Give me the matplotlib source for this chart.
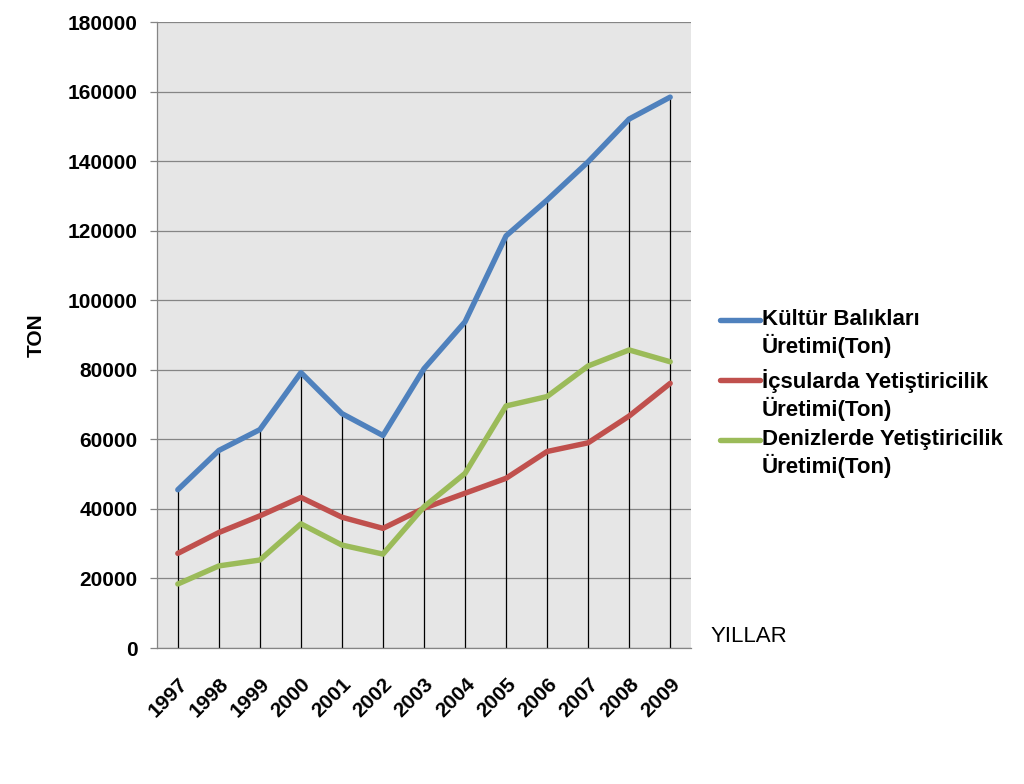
import matplotlib
matplotlib.use("Agg")
import matplotlib.pyplot as plt
from matplotlib.lines import Line2D
import numpy as np

plt.rcParams['font.family'] = ['Liberation Sans', 'DejaVu Sans']

years = ['1997', '1998', '1999', '2000', '2001', '2002', '2003',
         '2004', '2005', '2006', '2007', '2008', '2009']
kultur = [45500, 56800, 62800, 79200, 67400, 61100, 80300,
          93800, 118500, 128800, 139800, 152100, 158400]
icsular = [27200, 33200, 38000, 43300, 37600, 34400, 40200,
           44500, 48800, 56500, 59000, 66700, 76100]
deniz = [18400, 23600, 25300, 35700, 29600, 27000, 40600,
         50200, 69600, 72300, 81100, 85700, 82300]

series_labels = ['Kültür Balıkları\nÜretimi(Ton)',
                 'İçsularda Yetiştiricilik\nÜretimi(Ton)',
                 'Denizlerde Yetiştiricilik\nÜretimi(Ton)']
colors = ['#4F81BD', '#C0504D', '#9BBB59']
yticks = [0, 20000, 40000, 60000, 80000, 100000, 120000, 140000, 160000, 180000]

fig = plt.figure(figsize=(10.24, 7.84), dpi=100)
ax = fig.add_axes([157.3 / 1024, 1 - 648 / 784, 533.4 / 1024, 626 / 784])
ax.set_facecolor('#E6E6E6')

x = np.arange(len(years))
all_series = [kultur, icsular, deniz]

# drop lines
tops = np.max(np.array(all_series), axis=0)
ax.vlines(x, 0, tops, colors='black', linewidth=0.9, zorder=2)

for s, c in zip(all_series, colors):
    ax.plot(x, s, color=c, linewidth=3.9, solid_capstyle='round',
            solid_joinstyle='round', zorder=3)

ax.set_xlim(-0.5, len(years) - 0.5)
ax.set_ylim(0, 180000)
ax.set_yticks(yticks)
ax.set_yticklabels([str(v) for v in yticks], fontsize=15, fontweight='bold')
ax.yaxis.grid(True, color='#858585', linewidth=0.9)
ax.set_axisbelow(True)

ax.set_xticks(x)
ax.set_xticklabels(years, fontsize=15, fontweight='bold', rotation=45,
                   ha='right', va='top', rotation_mode='anchor')
ax.tick_params(axis='x', length=0, pad=19)
ax.tick_params(axis='y', length=5, width=0.9, color='#858585', pad=9)

for side in ['top', 'right']:
    ax.spines[side].set_visible(False)
for side in ['left', 'bottom']:
    ax.spines[side].set_color('#858585')
    ax.spines[side].set_linewidth(0.9)

ax.set_ylabel('TON', fontsize=15, fontweight='bold')
ax.yaxis.set_label_coords((46 - 157.3) / 533.4, 0.5)

fig.text(711 / 1024, 1 - 636 / 784, 'YILLAR', fontsize=16,
         ha='left', va='center')

# legend (manual)
leg_y = [320, 380, 440]
for lab, c, yy in zip(series_labels, colors, leg_y):
    fy = 1 - yy / 784
    fig.add_artist(Line2D([720 / 1024, 760 / 1024], [fy, fy], color=c,
                          linewidth=3.9, solid_capstyle='round',
                          transform=fig.transFigure))
    fig.text(762 / 1024, fy + 11 / 784, lab, fontsize=16, fontweight='bold',
             ha='left', va='top', linespacing=1.2)

fig.savefig('out.png', dpi=100)
